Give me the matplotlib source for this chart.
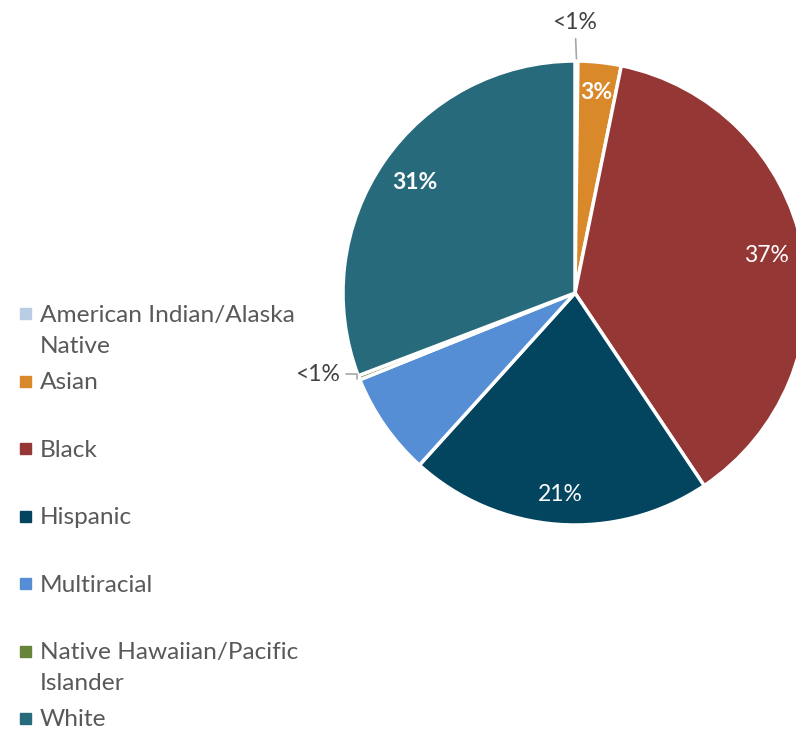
import numpy as np
import matplotlib.pyplot as plt
from matplotlib.patches import Rectangle

plt.rcParams['font.family'] = ['Lato', 'DejaVu Sans']

categories = ["American Indian/Alaska\nNative", "Asian", "Black", "Hispanic",
              "Multiracial", "Native Hawaiian/Pacific\nIslander", "White"]
shares = [0.2, 3.0, 37.4, 21.1, 7.2, 0.3, 30.8]
pct_labels = ["<1%", "3%", "37%", "21%", "", "<1%", "31%"]
colors = ["#B9CDE5", "#D9882A", "#953735", "#03455F", "#558ED5", "#66843A", "#276A7C"]

W, H = 796, 729
fig = plt.figure(figsize=(W / 100, H / 100), dpi=100)

# pie axes placed in pixel terms: centre (575, 293), radius 232
cx, cy, R = 575, 293, 232
ax = fig.add_axes([(cx - R) / W, (H - cy - R) / H, 2 * R / W, 2 * R / H])
wedges, _ = ax.pie(shares, colors=colors, startangle=90, counterclock=False,
                   radius=1.0, wedgeprops=dict(edgecolor='white', linewidth=2.5))
ax.set_xlim(-1, 1)
ax.set_ylim(-1, 1)
ax.set_aspect('equal')
ax.axis('off')

inside_style = {1: 'bold', 2: 'normal', 3: 'normal', 6: 'bold'}
for i, (w, lab) in enumerate(zip(wedges, pct_labels)):
    if not lab:
        continue
    mid = np.deg2rad((w.theta1 + w.theta2) / 2)
    if i in inside_style:
        r = 0.87 if i in (1, 3) else 0.84
        ax.text(r * np.cos(mid), r * np.sin(mid), lab, ha='center', va='center',
                color='white', fontsize=16.5, fontweight=inside_style[i])

# small slices with leader lines
w = wedges[0]
mid = np.deg2rad((w.theta1 + w.theta2) / 2)
ax.annotate(pct_labels[0], xy=(np.cos(mid), 1.01), xytext=(0, 1.12),
            ha='center', va='bottom', fontsize=16.5, color='#404040',
            arrowprops=dict(arrowstyle='-', color='#A6A6A6', lw=1.2,
                            shrinkA=2, shrinkB=0), annotation_clip=False)
w = wedges[5]
mid = np.deg2rad((w.theta1 + w.theta2) / 2)
ax.annotate(pct_labels[5], xy=(np.cos(mid) * 1.01, np.sin(mid) * 1.01), xytext=(-1.015, -0.35),
            ha='right', va='center', fontsize=16.5, color='#404040',
            arrowprops=dict(arrowstyle='-', color='#A6A6A6', lw=1.2,
                            connectionstyle='angle,angleA=0,angleB=90',
                            shrinkA=3, shrinkB=0), annotation_clip=False)

# legend (Excel style: fixed slots, long labels wrap downward)
y0, step = 314, 67.4
for i, (lab, c) in enumerate(zip(categories, colors)):
    y = y0 + i * step
    fig.patches.append(Rectangle((20 / W, (H - y - 5.5) / H), 11 / W, 11 / H,
                                 transform=fig.transFigure, color=c))
    fig.text(40 / W, (H - y + 9) / H, lab, ha='left', va='top', fontsize=17.6,
             color='#595959', linespacing=1.56)

plt.savefig("out.png", dpi=100)
